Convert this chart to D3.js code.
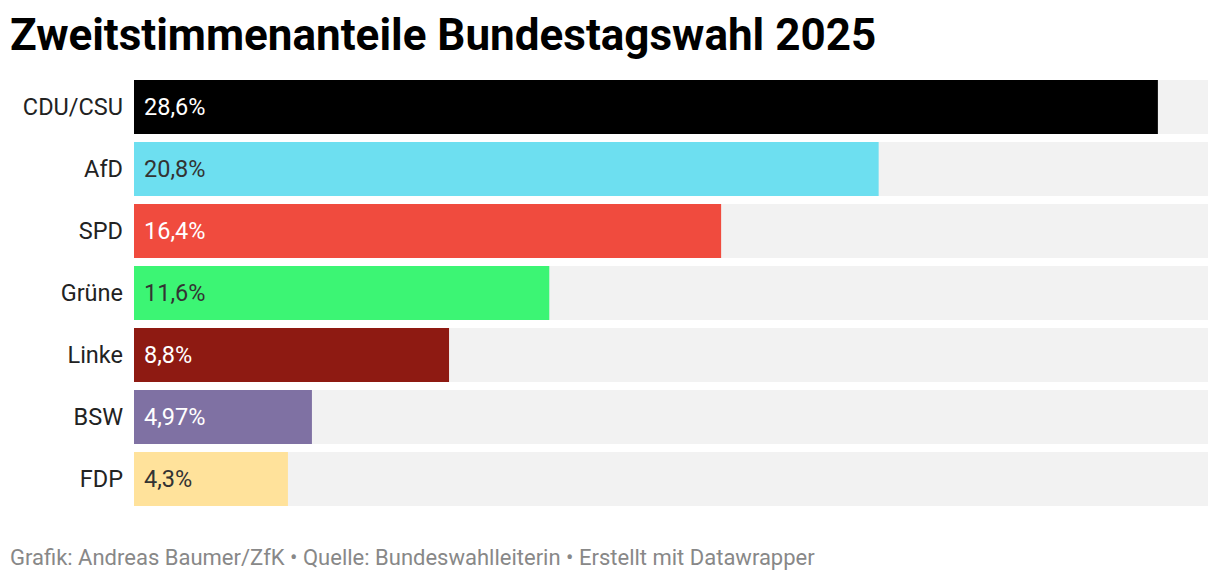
<!DOCTYPE html>
<html>
<head>
<meta charset="utf-8">
<script src="https://cdn.jsdelivr.net/npm/d3@7"></script>
<style>
  body { margin: 0; background: #fff; }
  svg { display: block; font-family: Roboto, sans-serif; }
</style>
</head>
<body>
<script>
const parties = ["CDU/CSU", "AfD", "SPD", "Grüne", "Linke", "BSW", "FDP"];
const shares = [28.6, 20.8, 16.4, 11.6, 8.8, 4.97, 4.3];
const labels = ["28,6%", "20,8%", "16,4%", "11,6%", "8,8%", "4,97%", "4,3%"];
const colors = ["#000000", "#6ddff0", "#f04b3e", "#3cf574", "#8e1a12", "#7f71a3", "#ffe29b"];
const textColors = ["#fff", "#333", "#fff", "#333", "#fff", "#fff", "#333"];

const width = 1220, height = 582;

const svg = d3.select("body")
    .append("svg")
    .attr("width", width)
    .attr("height", height);

const x = d3.scaleLinear()
    .domain([0, 30])
    .range([134, 1208]);

// 54px bars, 8px gaps
const y = d3.scaleBand()
    .domain(parties)
    .range([80, 80 + 62 * parties.length - 8])
    .paddingInner(8 / 62)
    .paddingOuter(0);

svg.append("text")
    .attr("x", 10)
    .attr("y", 50)
    .text("Zweitstimmenanteile Bundestagswahl 2025")
    .attr("font-size", "44px")
    .attr("font-weight", "700")
    .attr("fill", "#000");

const rows = svg.selectAll("g.row")
    .data(parties)
    .join("g")
    .attr("class", "row");

// grey track
rows.append("rect")
    .attr("x", x(0))
    .attr("y", d => y(d))
    .attr("width", x(30) - x(0))
    .attr("height", y.bandwidth())
    .attr("fill", "#f2f2f2");

rows.append("rect")
    .attr("x", x(0))
    .attr("y", d => y(d))
    .attr("width", (d, i) => x(shares[i]) - x(0))
    .attr("height", y.bandwidth())
    .attr("fill", (d, i) => colors[i]);

rows.append("text")
    .attr("x", x(0) - 11)
    .attr("y", d => y(d) + y.bandwidth() / 2)
    .attr("dy", "0.35em")
    .attr("text-anchor", "end")
    .text(d => d)
    .attr("font-size", "23.5px")
    .attr("fill", "#222");

rows.append("text")
    .attr("x", x(0) + 10)
    .attr("y", d => y(d) + y.bandwidth() / 2)
    .attr("dy", "0.35em")
    .text((d, i) => labels[i])
    .attr("font-size", "23.5px")
    .attr("fill", (d, i) => textColors[i]);

svg.append("text")
    .attr("x", 10)
    .attr("y", 565)
    .text("Grafik: Andreas Baumer/ZfK • Quelle: Bundeswahlleiterin • Erstellt mit Datawrapper")
    .attr("font-size", "22px")
    .attr("fill", "#888");
</script>
</body>
</html>
